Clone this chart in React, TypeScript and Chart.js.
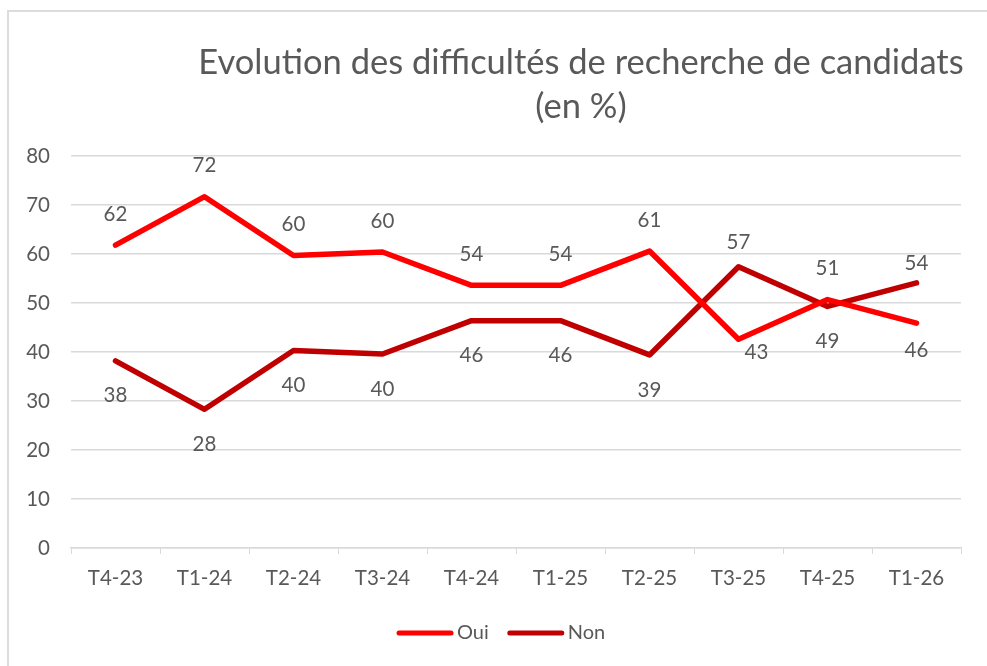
import React, { useEffect, useRef } from "react";
import { Chart, registerables } from "chart.js";

Chart.register(...registerables);

const categories = ["T4-23", "T1-24", "T2-24", "T3-24", "T4-24", "T1-25", "T2-25", "T3-25", "T4-25", "T1-26"];
const ouiValues = [61.8, 71.7, 59.7, 60.4, 53.6, 53.6, 60.6, 42.6, 50.7, 45.9];
const nonValues = [38.2, 28.3, 40.3, 39.6, 46.4, 46.4, 39.4, 57.4, 49.3, 54.1];
const seriesNames = ["Oui", "Non"];
const seriesColors = ["#FF0000", "#C00000"];
const yMin = 0;
const yMax = 80;
const yStep = 10;
const titleLines = ["Evolution des difficultés de recherche de candidats", "(en %)"];

const FONT = "Lato, 'Open Sans', sans-serif";
const TEXT = "#595959";
const GRID = "#d9d9d9";

// manual label adjustments (dataset-index -> [dx, dy]) like the hand-moved labels of the original
const labelNudges: Record<string, [number, number]> = {
  "0-7": [18, -22],
  "1-9": [0, 11],
  "0-9": [0, -8],
  "1-7": [0, 7],
};

const decorPlugin = {
  id: "decor",
  beforeDraw(chart: any) {
    const ctx = chart.ctx;
    ctx.save();
    ctx.fillStyle = "#ffffff";
    ctx.fillRect(0, 0, chart.width, chart.height);
    ctx.fillStyle = "#dcdcdc";
    ctx.fillRect(7, 10, 2, chart.height - 10);
    ctx.fillRect(7, 10, chart.width - 7, 2);
    ctx.restore();
  },
  afterDraw(chart: any) {
    const ctx = chart.ctx;
    ctx.save();
    // title
    ctx.fillStyle = TEXT;
    ctx.font = `34.5px ${FONT}`;
    ctx.textAlign = "center";
    ctx.textBaseline = "middle";
    ctx.fillText(titleLines[0], 581, 63);
    ctx.fillText(titleLines[1], 581, 107);
    // legend
    ctx.font = `20px ${FONT}`;
    ctx.textAlign = "left";
    let x = 397;
    const y = 633;
    chart.data.datasets.forEach((ds: any) => {
      ctx.strokeStyle = ds.borderColor;
      ctx.lineWidth = 5;
      ctx.lineCap = "round";
      ctx.beginPath();
      ctx.moveTo(x + 2, y);
      ctx.lineTo(x + 54, y);
      ctx.stroke();
      ctx.fillStyle = TEXT;
      ctx.fillText(ds.label, x + 60, y);
      x += 60 + ctx.measureText(ds.label).width + 19;
    });
    ctx.restore();
  },
  afterDatasetsDraw(chart: any) {
    const ctx = chart.ctx;
    ctx.save();
    ctx.fillStyle = TEXT;
    ctx.font = `20.5px ${FONT}`;
    ctx.textAlign = "center";
    ctx.textBaseline = "middle";
    const sets = chart.data.datasets;
    sets.forEach((ds: any, di: number) => {
      const meta = chart.getDatasetMeta(di);
      const other = sets[1 - di];
      meta.data.forEach((pt: any, j: number) => {
        const v = ds.data[j];
        const above = v >= other.data[j];
        const nudge = labelNudges[`${di}-${j}`] || [0, 0];
        const yy = pt.y + (above ? -31 : 35) + nudge[1];
        ctx.fillText(String(Math.round(v)), pt.x + nudge[0], yy);
      });
    });
    ctx.restore();
  },
};

export default function App() {
  const ref = useRef<HTMLCanvasElement | null>(null);
  useEffect(() => {
    if (!ref.current) return;
    const chart = new Chart(ref.current, {
      type: "line",
      data: {
        labels: categories,
        datasets: [
          {
            label: seriesNames[0],
            data: ouiValues,
            borderColor: seriesColors[0],
            backgroundColor: seriesColors[0],
            borderWidth: 5.5,
            pointRadius: 0,
            borderJoinStyle: "round",
            borderCapStyle: "round",
            tension: 0,
          },
          {
            label: seriesNames[1],
            data: nonValues,
            borderColor: seriesColors[1],
            backgroundColor: seriesColors[1],
            borderWidth: 5.5,
            pointRadius: 0,
            borderJoinStyle: "round",
            borderCapStyle: "round",
            tension: 0,
          },
        ],
      },
      options: {
        responsive: false,
        animation: false,
        layout: { padding: { left: 0, right: 26, top: 156, bottom: 70 } },
        plugins: {
          legend: { display: false },
          title: { display: false },
          tooltip: { enabled: false },
        },
        scales: {
          x: {
            offset: true,
            grid: {
              offset: true,
              drawOnChartArea: false,
              drawTicks: true,
              tickLength: 6,
              color: GRID,
            },
            border: { display: true, color: GRID, width: 1.5 },
            ticks: {
              color: TEXT,
              font: { family: FONT, size: 20.5 },
              padding: 12,
              maxRotation: 0,
            },
            afterFit(scale: any) {
              scale.height = 48;
            },
          },
          y: {
            min: yMin,
            max: yMax,
            ticks: {
              stepSize: yStep,
              color: TEXT,
              font: { family: FONT, size: 20.5 },
              padding: 21,
            },
            grid: { color: GRID, lineWidth: 1.5, drawTicks: false },
            border: { display: false },
            afterFit(scale: any) {
              scale.width = 71;
            },
          },
        },
      },
      plugins: [decorPlugin],
    } as any);
    return () => chart.destroy();
  }, []);
  return (
    <div style={{ position: "absolute", left: 0, top: 0, width: 987, height: 666 }}>
      <canvas ref={ref} width={987} height={666} />
    </div>
  );
}
